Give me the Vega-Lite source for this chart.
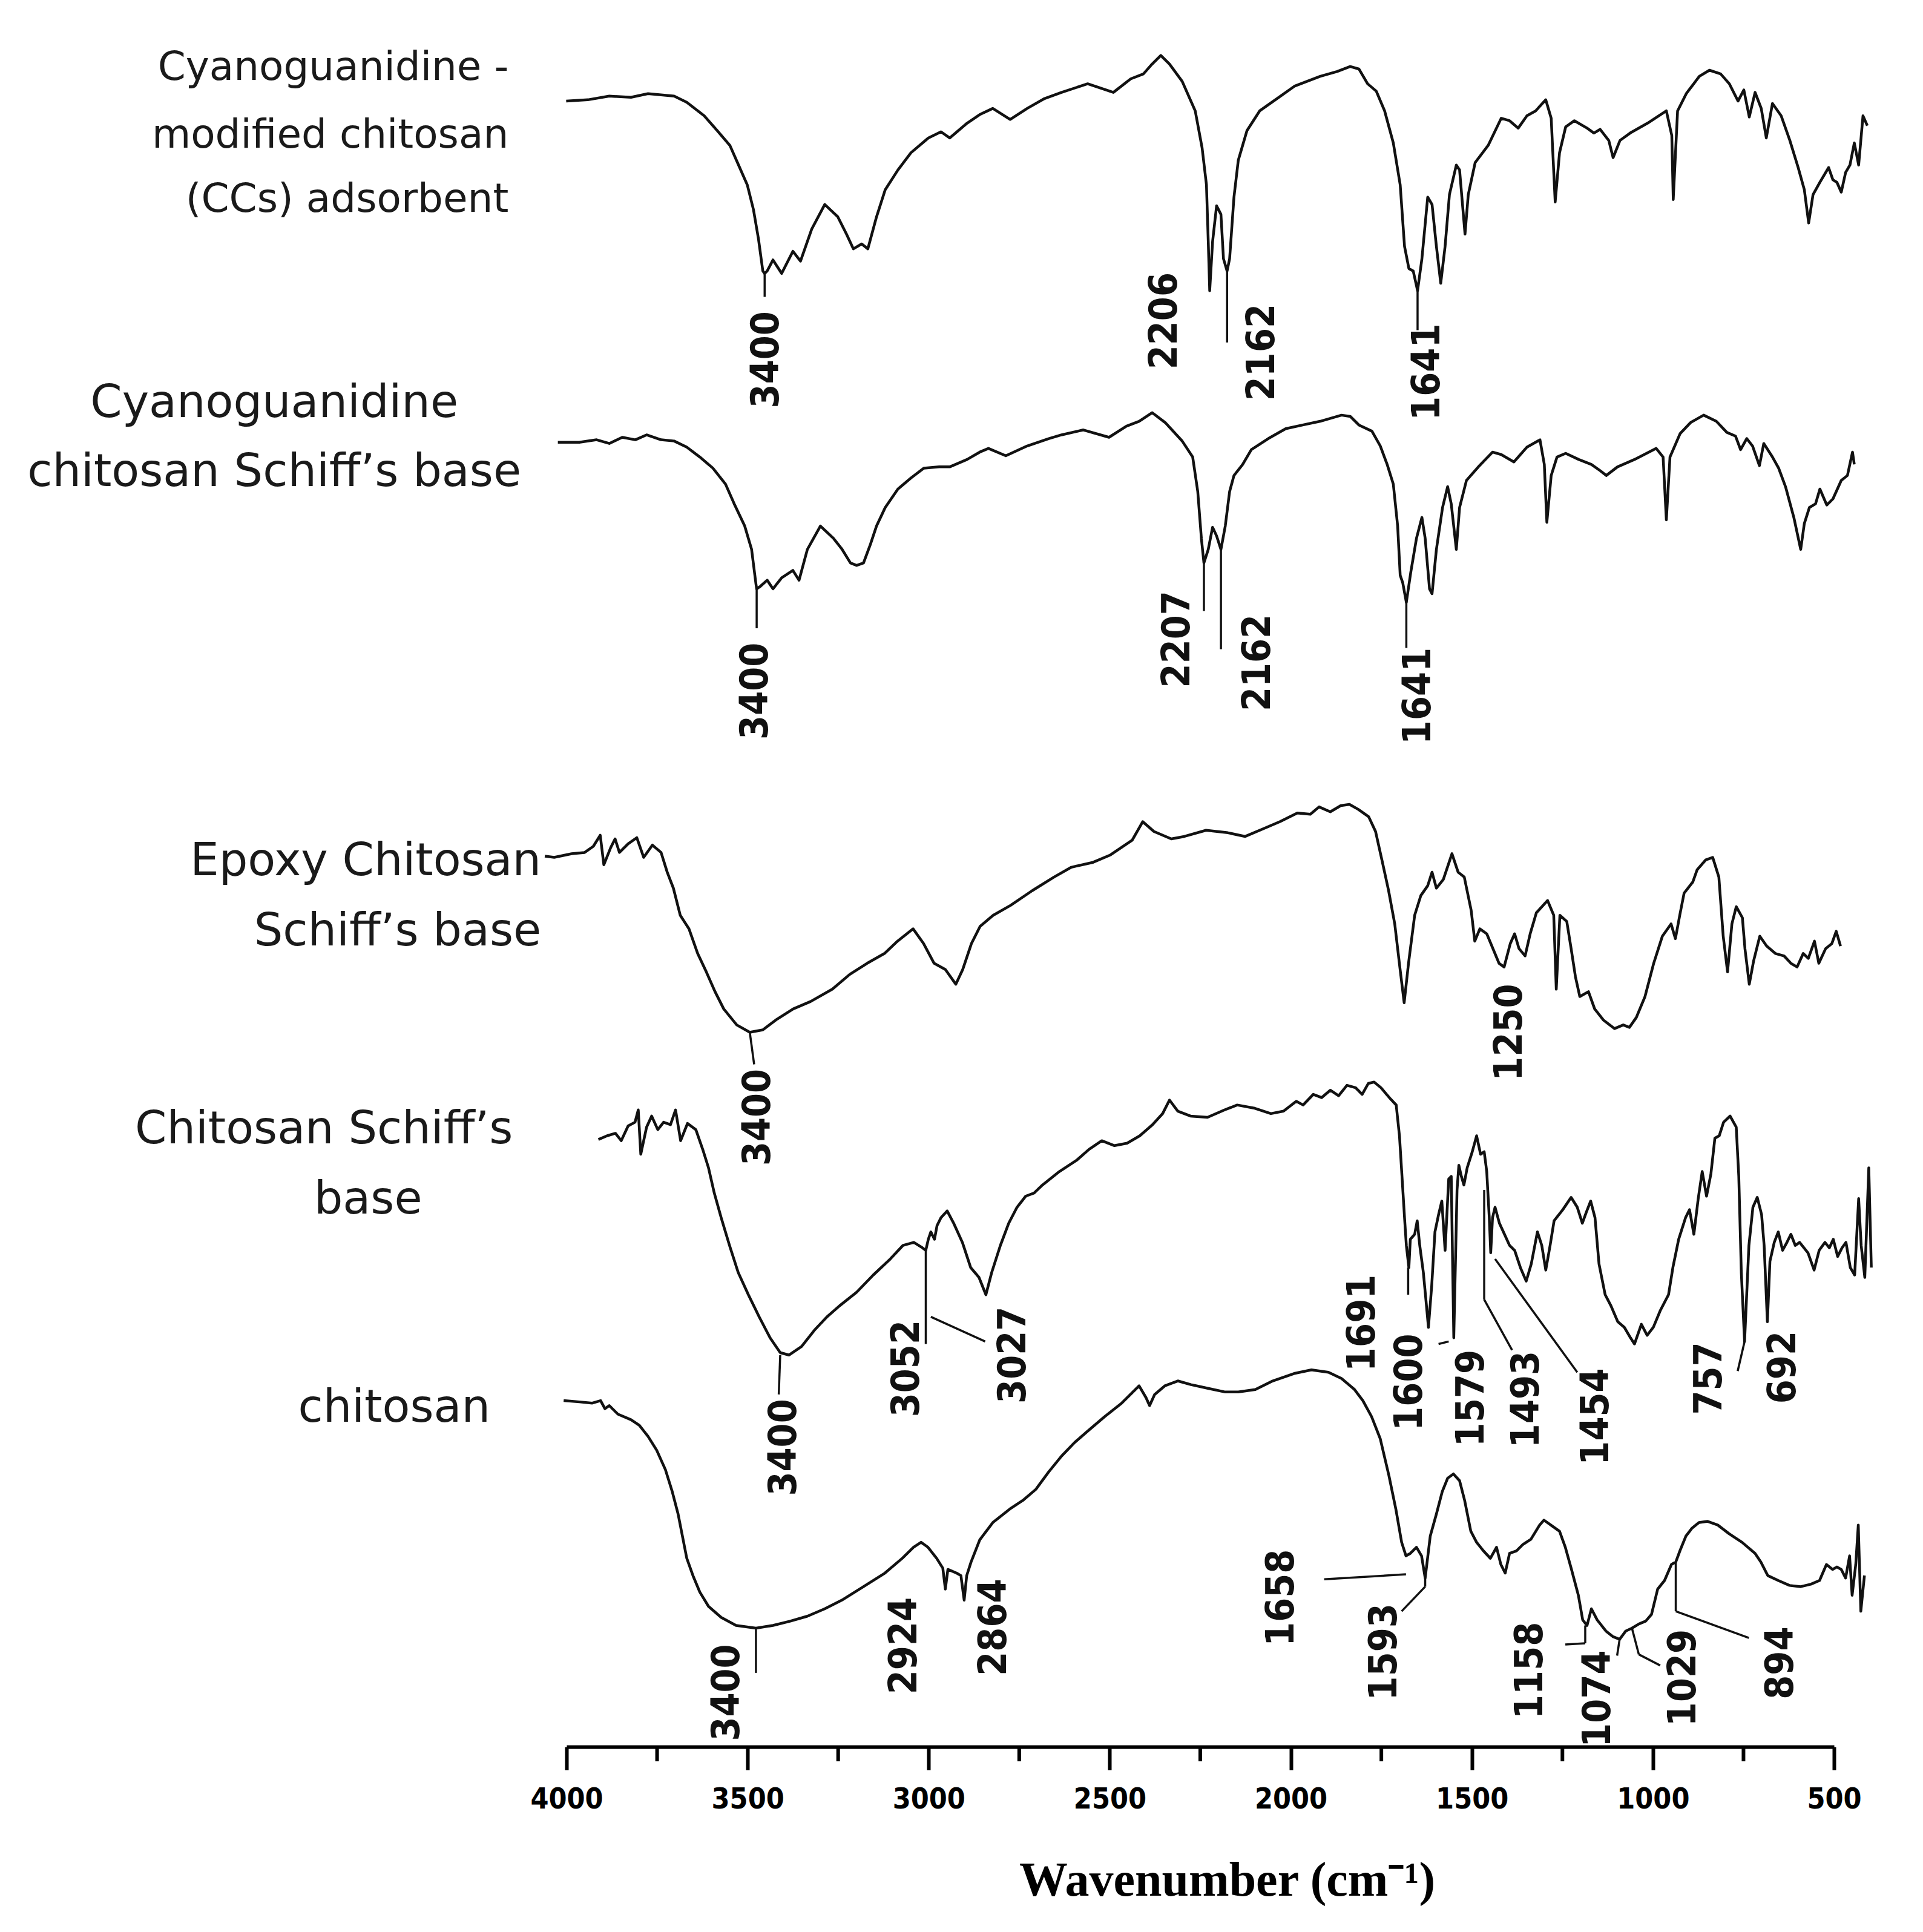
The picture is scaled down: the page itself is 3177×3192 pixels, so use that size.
{
"$schema": "https://vega.github.io/schema/vega-lite/v6.json",
"autosize": {"type": "none"},
"padding": {"left": 936, "top": 0, "right": 147, "bottom": 306},
"width": 2094,
"height": 2886,
"background": "white",
"config": {"view": {"stroke": null}},
"datasets": {
"spectra": [
{"s":"CCs","wn":4001,"T":133.6},{"s":"CCs","wn":3941,"T":133.7},{"s":"CCs","wn":3882,"T":134.0},{"s":"CCs","wn":3822,"T":133.9},{"s":"CCs","wn":3775,"T":134.2},{"s":"CCs","wn":3703,"T":134.0},{"s":"CCs","wn":3668,"T":133.5},{"s":"CCs","wn":3620,"T":132.4},{"s":"CCs","wn":3584,"T":131.2},{"s":"CCs","wn":3549,"T":130.0},{"s":"CCs","wn":3525,"T":128.4},{"s":"CCs","wn":3501,"T":126.8},{"s":"CCs","wn":3484,"T":124.8},{"s":"CCs","wn":3470,"T":122.4},{"s":"CCs","wn":3458,"T":119.8},{"s":"CCs","wn":3453,"T":119.6},{"s":"CCs","wn":3446,"T":119.8},{"s":"CCs","wn":3430,"T":120.7},{"s":"CCs","wn":3406,"T":119.6},{"s":"CCs","wn":3375,"T":121.4},{"s":"CCs","wn":3354,"T":120.6},{"s":"CCs","wn":3323,"T":123.2},{"s":"CCs","wn":3287,"T":125.2},{"s":"CCs","wn":3251,"T":124.2},{"s":"CCs","wn":3227,"T":122.8},{"s":"CCs","wn":3208,"T":121.6},{"s":"CCs","wn":3185,"T":122.0},{"s":"CCs","wn":3168,"T":121.6},{"s":"CCs","wn":3144,"T":124.2},{"s":"CCs","wn":3120,"T":126.4},{"s":"CCs","wn":3085,"T":128.0},{"s":"CCs","wn":3049,"T":129.4},{"s":"CCs","wn":3001,"T":130.6},{"s":"CCs","wn":2966,"T":131.1},{"s":"CCs","wn":2942,"T":130.6},{"s":"CCs","wn":2894,"T":131.8},{"s":"CCs","wn":2859,"T":132.5},{"s":"CCs","wn":2823,"T":133.0},{"s":"CCs","wn":2775,"T":132.1},{"s":"CCs","wn":2728,"T":133.0},{"s":"CCs","wn":2680,"T":133.8},{"s":"CCs","wn":2633,"T":134.3},{"s":"CCs","wn":2561,"T":135.0},{"s":"CCs","wn":2490,"T":134.3},{"s":"CCs","wn":2442,"T":135.4},{"s":"CCs","wn":2407,"T":135.8},{"s":"CCs","wn":2383,"T":136.6},{"s":"CCs","wn":2359,"T":137.3},{"s":"CCs","wn":2335,"T":136.6},{"s":"CCs","wn":2300,"T":135.2},{"s":"CCs","wn":2264,"T":132.8},{"s":"CCs","wn":2245,"T":129.8},{"s":"CCs","wn":2233,"T":126.8},{"s":"CCs","wn":2228,"T":122.2},{"s":"CCs","wn":2224,"T":118.2},{"s":"CCs","wn":2216,"T":122.2},{"s":"CCs","wn":2205,"T":125.1},{"s":"CCs","wn":2193,"T":124.4},{"s":"CCs","wn":2186,"T":120.8},{"s":"CCs","wn":2176,"T":119.8},{"s":"CCs","wn":2169,"T":120.8},{"s":"CCs","wn":2157,"T":125.8},{"s":"CCs","wn":2145,"T":128.8},{"s":"CCs","wn":2121,"T":131.2},{"s":"CCs","wn":2086,"T":132.8},{"s":"CCs","wn":2038,"T":133.8},{"s":"CCs","wn":1990,"T":134.8},{"s":"CCs","wn":1919,"T":135.6},{"s":"CCs","wn":1872,"T":136.0},{"s":"CCs","wn":1836,"T":136.4},{"s":"CCs","wn":1812,"T":136.2},{"s":"CCs","wn":1788,"T":135.0},{"s":"CCs","wn":1764,"T":134.4},{"s":"CCs","wn":1741,"T":132.8},{"s":"CCs","wn":1717,"T":130.2},{"s":"CCs","wn":1698,"T":126.8},{"s":"CCs","wn":1686,"T":121.8},{"s":"CCs","wn":1674,"T":120.0},{"s":"CCs","wn":1662,"T":119.8},{"s":"CCs","wn":1650,"T":118.2},{"s":"CCs","wn":1638,"T":120.8},{"s":"CCs","wn":1622,"T":125.8},{"s":"CCs","wn":1610,"T":125.2},{"s":"CCs","wn":1598,"T":121.8},{"s":"CCs","wn":1586,"T":118.8},{"s":"CCs","wn":1574,"T":121.8},{"s":"CCs","wn":1562,"T":126.0},{"s":"CCs","wn":1543,"T":128.4},{"s":"CCs","wn":1534,"T":128.0},{"s":"CCs","wn":1519,"T":122.8},{"s":"CCs","wn":1510,"T":126.0},{"s":"CCs","wn":1491,"T":128.6},{"s":"CCs","wn":1455,"T":130.0},{"s":"CCs","wn":1419,"T":132.2},{"s":"CCs","wn":1396,"T":132.0},{"s":"CCs","wn":1372,"T":131.4},{"s":"CCs","wn":1348,"T":132.4},{"s":"CCs","wn":1324,"T":132.8},{"s":"CCs","wn":1296,"T":133.7},{"s":"CCs","wn":1281,"T":132.2},{"s":"CCs","wn":1270,"T":125.4},{"s":"CCs","wn":1258,"T":129.4},{"s":"CCs","wn":1241,"T":131.5},{"s":"CCs","wn":1217,"T":132.0},{"s":"CCs","wn":1182,"T":131.4},{"s":"CCs","wn":1163,"T":131.0},{"s":"CCs","wn":1146,"T":131.3},{"s":"CCs","wn":1122,"T":130.4},{"s":"CCs","wn":1110,"T":129.0},{"s":"CCs","wn":1091,"T":130.4},{"s":"CCs","wn":1063,"T":131.0},{"s":"CCs","wn":1015,"T":131.8},{"s":"CCs","wn":963,"T":132.8},{"s":"CCs","wn":948,"T":130.8},{"s":"CCs","wn":944,"T":125.6},{"s":"CCs","wn":932,"T":132.8},{"s":"CCs","wn":908,"T":134.2},{"s":"CCs","wn":872,"T":135.6},{"s":"CCs","wn":844,"T":136.1},{"s":"CCs","wn":813,"T":135.8},{"s":"CCs","wn":789,"T":135.0},{"s":"CCs","wn":765,"T":133.6},{"s":"CCs","wn":749,"T":134.5},{"s":"CCs","wn":734,"T":132.3},{"s":"CCs","wn":718,"T":134.3},{"s":"CCs","wn":701,"T":133.0},{"s":"CCs","wn":687,"T":130.6},{"s":"CCs","wn":670,"T":133.4},{"s":"CCs","wn":646,"T":132.4},{"s":"CCs","wn":622,"T":130.4},{"s":"CCs","wn":599,"T":128.2},{"s":"CCs","wn":582,"T":126.4},{"s":"CCs","wn":570,"T":123.7},{"s":"CCs","wn":558,"T":126.0},{"s":"CCs","wn":539,"T":127.0},{"s":"CCs","wn":515,"T":128.2},{"s":"CCs","wn":503,"T":127.2},{"s":"CCs","wn":492,"T":127.0},{"s":"CCs","wn":480,"T":126.2},{"s":"CCs","wn":468,"T":127.8},{"s":"CCs","wn":456,"T":128.4},{"s":"CCs","wn":444,"T":130.2},{"s":"CCs","wn":432,"T":128.4},{"s":"CCs","wn":420,"T":132.4},{"s":"CCs","wn":408,"T":131.6},
{"s":"CGCSB","wn":4024,"T":105.9},{"s":"CGCSB","wn":3965,"T":105.9},{"s":"CGCSB","wn":3917,"T":106.1},{"s":"CGCSB","wn":3882,"T":105.8},{"s":"CGCSB","wn":3846,"T":106.3},{"s":"CGCSB","wn":3810,"T":106.1},{"s":"CGCSB","wn":3779,"T":106.5},{"s":"CGCSB","wn":3739,"T":106.1},{"s":"CGCSB","wn":3703,"T":106.0},{"s":"CGCSB","wn":3668,"T":105.5},{"s":"CGCSB","wn":3632,"T":104.7},{"s":"CGCSB","wn":3596,"T":103.8},{"s":"CGCSB","wn":3561,"T":102.5},{"s":"CGCSB","wn":3537,"T":100.9},{"s":"CGCSB","wn":3508,"T":99.1},{"s":"CGCSB","wn":3489,"T":97.2},{"s":"CGCSB","wn":3477,"T":94.4},{"s":"CGCSB","wn":3475,"T":94.0},{"s":"CGCSB","wn":3465,"T":94.2},{"s":"CGCSB","wn":3446,"T":94.7},{"s":"CGCSB","wn":3430,"T":94.0},{"s":"CGCSB","wn":3406,"T":94.9},{"s":"CGCSB","wn":3375,"T":95.5},{"s":"CGCSB","wn":3358,"T":94.7},{"s":"CGCSB","wn":3335,"T":97.2},{"s":"CGCSB","wn":3299,"T":99.1},{"s":"CGCSB","wn":3263,"T":98.1},{"s":"CGCSB","wn":3239,"T":97.2},{"s":"CGCSB","wn":3216,"T":96.1},{"s":"CGCSB","wn":3199,"T":95.9},{"s":"CGCSB","wn":3180,"T":96.1},{"s":"CGCSB","wn":3161,"T":97.6},{"s":"CGCSB","wn":3144,"T":99.1},{"s":"CGCSB","wn":3120,"T":100.6},{"s":"CGCSB","wn":3085,"T":102.1},{"s":"CGCSB","wn":3049,"T":103.0},{"s":"CGCSB","wn":3013,"T":103.8},{"s":"CGCSB","wn":2971,"T":103.9},{"s":"CGCSB","wn":2942,"T":103.9},{"s":"CGCSB","wn":2894,"T":104.5},{"s":"CGCSB","wn":2859,"T":105.1},{"s":"CGCSB","wn":2835,"T":105.4},{"s":"CGCSB","wn":2787,"T":104.8},{"s":"CGCSB","wn":2728,"T":105.6},{"s":"CGCSB","wn":2668,"T":106.2},{"s":"CGCSB","wn":2633,"T":106.5},{"s":"CGCSB","wn":2573,"T":106.9},{"s":"CGCSB","wn":2502,"T":106.3},{"s":"CGCSB","wn":2454,"T":107.2},{"s":"CGCSB","wn":2419,"T":107.6},{"s":"CGCSB","wn":2383,"T":108.3},{"s":"CGCSB","wn":2347,"T":107.5},{"s":"CGCSB","wn":2300,"T":106.0},{"s":"CGCSB","wn":2271,"T":104.7},{"s":"CGCSB","wn":2257,"T":101.9},{"s":"CGCSB","wn":2247,"T":98.1},{"s":"CGCSB","wn":2240,"T":96.1},{"s":"CGCSB","wn":2228,"T":97.2},{"s":"CGCSB","wn":2216,"T":99.0},{"s":"CGCSB","wn":2205,"T":98.3},{"s":"CGCSB","wn":2193,"T":97.2},{"s":"CGCSB","wn":2181,"T":99.1},{"s":"CGCSB","wn":2169,"T":101.9},{"s":"CGCSB","wn":2157,"T":103.2},{"s":"CGCSB","wn":2133,"T":104.1},{"s":"CGCSB","wn":2109,"T":105.3},{"s":"CGCSB","wn":2062,"T":106.2},{"s":"CGCSB","wn":2014,"T":107.0},{"s":"CGCSB","wn":1967,"T":107.3},{"s":"CGCSB","wn":1919,"T":107.6},{"s":"CGCSB","wn":1860,"T":108.1},{"s":"CGCSB","wn":1836,"T":108.0},{"s":"CGCSB","wn":1812,"T":107.3},{"s":"CGCSB","wn":1776,"T":106.8},{"s":"CGCSB","wn":1753,"T":105.6},{"s":"CGCSB","wn":1734,"T":104.1},{"s":"CGCSB","wn":1717,"T":102.5},{"s":"CGCSB","wn":1705,"T":99.1},{"s":"CGCSB","wn":1698,"T":95.1},{"s":"CGCSB","wn":1691,"T":94.5},{"s":"CGCSB","wn":1681,"T":92.9},{"s":"CGCSB","wn":1669,"T":95.3},{"s":"CGCSB","wn":1653,"T":98.1},{"s":"CGCSB","wn":1638,"T":99.8},{"s":"CGCSB","wn":1629,"T":98.1},{"s":"CGCSB","wn":1617,"T":94.0},{"s":"CGCSB","wn":1610,"T":93.6},{"s":"CGCSB","wn":1598,"T":97.2},{"s":"CGCSB","wn":1581,"T":100.6},{"s":"CGCSB","wn":1567,"T":102.3},{"s":"CGCSB","wn":1557,"T":100.9},{"s":"CGCSB","wn":1543,"T":97.2},{"s":"CGCSB","wn":1534,"T":100.6},{"s":"CGCSB","wn":1515,"T":102.8},{"s":"CGCSB","wn":1479,"T":104.0},{"s":"CGCSB","wn":1443,"T":105.1},{"s":"CGCSB","wn":1419,"T":104.9},{"s":"CGCSB","wn":1384,"T":104.3},{"s":"CGCSB","wn":1348,"T":105.5},{"s":"CGCSB","wn":1312,"T":106.1},{"s":"CGCSB","wn":1300,"T":104.1},{"s":"CGCSB","wn":1293,"T":99.4},{"s":"CGCSB","wn":1281,"T":103.2},{"s":"CGCSB","wn":1265,"T":104.7},{"s":"CGCSB","wn":1241,"T":105.0},{"s":"CGCSB","wn":1205,"T":104.5},{"s":"CGCSB","wn":1170,"T":104.1},{"s":"CGCSB","wn":1146,"T":103.6},{"s":"CGCSB","wn":1129,"T":103.2},{"s":"CGCSB","wn":1098,"T":103.9},{"s":"CGCSB","wn":1051,"T":104.5},{"s":"CGCSB","wn":991,"T":105.4},{"s":"CGCSB","wn":972,"T":104.7},{"s":"CGCSB","wn":963,"T":99.6},{"s":"CGCSB","wn":953,"T":104.7},{"s":"CGCSB","wn":925,"T":106.6},{"s":"CGCSB","wn":896,"T":107.5},{"s":"CGCSB","wn":860,"T":108.1},{"s":"CGCSB","wn":825,"T":107.6},{"s":"CGCSB","wn":796,"T":106.7},{"s":"CGCSB","wn":772,"T":106.4},{"s":"CGCSB","wn":758,"T":105.3},{"s":"CGCSB","wn":741,"T":106.2},{"s":"CGCSB","wn":725,"T":105.6},{"s":"CGCSB","wn":706,"T":104.0},{"s":"CGCSB","wn":694,"T":105.8},{"s":"CGCSB","wn":670,"T":104.7},{"s":"CGCSB","wn":653,"T":103.8},{"s":"CGCSB","wn":634,"T":102.3},{"s":"CGCSB","wn":611,"T":99.8},{"s":"CGCSB","wn":592,"T":97.2},{"s":"CGCSB","wn":582,"T":99.3},{"s":"CGCSB","wn":568,"T":100.6},{"s":"CGCSB","wn":551,"T":100.9},{"s":"CGCSB","wn":539,"T":102.1},{"s":"CGCSB","wn":520,"T":100.8},{"s":"CGCSB","wn":503,"T":101.3},{"s":"CGCSB","wn":480,"T":102.8},{"s":"CGCSB","wn":463,"T":103.2},{"s":"CGCSB","wn":449,"T":105.1},{"s":"CGCSB","wn":444,"T":104.1},
{"s":"ECSB","wn":4060,"T":72.3},{"s":"ECSB","wn":4034,"T":72.2},{"s":"ECSB","wn":3986,"T":72.5},{"s":"ECSB","wn":3950,"T":72.6},{"s":"ECSB","wn":3926,"T":73.1},{"s":"ECSB","wn":3907,"T":74.0},{"s":"ECSB","wn":3897,"T":71.6},{"s":"ECSB","wn":3878,"T":73.0},{"s":"ECSB","wn":3866,"T":73.7},{"s":"ECSB","wn":3854,"T":72.6},{"s":"ECSB","wn":3830,"T":73.3},{"s":"ECSB","wn":3806,"T":73.8},{"s":"ECSB","wn":3787,"T":72.2},{"s":"ECSB","wn":3763,"T":73.2},{"s":"ECSB","wn":3739,"T":72.6},{"s":"ECSB","wn":3722,"T":71.0},{"s":"ECSB","wn":3705,"T":69.7},{"s":"ECSB","wn":3686,"T":67.5},{"s":"ECSB","wn":3662,"T":66.4},{"s":"ECSB","wn":3638,"T":64.4},{"s":"ECSB","wn":3614,"T":62.9},{"s":"ECSB","wn":3590,"T":61.3},{"s":"ECSB","wn":3566,"T":59.9},{"s":"ECSB","wn":3530,"T":58.6},{"s":"ECSB","wn":3494,"T":58.0},{"s":"ECSB","wn":3458,"T":58.2},{"s":"ECSB","wn":3422,"T":59.0},{"s":"ECSB","wn":3374,"T":59.9},{"s":"ECSB","wn":3326,"T":60.5},{"s":"ECSB","wn":3266,"T":61.5},{"s":"ECSB","wn":3218,"T":62.7},{"s":"ECSB","wn":3170,"T":63.6},{"s":"ECSB","wn":3122,"T":64.4},{"s":"ECSB","wn":3086,"T":65.4},{"s":"ECSB","wn":3043,"T":66.4},{"s":"ECSB","wn":3014,"T":65.2},{"s":"ECSB","wn":2985,"T":63.6},{"s":"ECSB","wn":2954,"T":63.1},{"s":"ECSB","wn":2925,"T":61.9},{"s":"ECSB","wn":2906,"T":63.1},{"s":"ECSB","wn":2882,"T":65.2},{"s":"ECSB","wn":2858,"T":66.6},{"s":"ECSB","wn":2822,"T":67.5},{"s":"ECSB","wn":2774,"T":68.3},{"s":"ECSB","wn":2714,"T":69.5},{"s":"ECSB","wn":2654,"T":70.6},{"s":"ECSB","wn":2606,"T":71.4},{"s":"ECSB","wn":2546,"T":71.8},{"s":"ECSB","wn":2498,"T":72.4},{"s":"ECSB","wn":2438,"T":73.6},{"s":"ECSB","wn":2409,"T":75.1},{"s":"ECSB","wn":2378,"T":74.3},{"s":"ECSB","wn":2330,"T":73.7},{"s":"ECSB","wn":2294,"T":73.9},{"s":"ECSB","wn":2234,"T":74.4},{"s":"ECSB","wn":2174,"T":74.2},{"s":"ECSB","wn":2126,"T":73.9},{"s":"ECSB","wn":2078,"T":74.5},{"s":"ECSB","wn":2030,"T":75.1},{"s":"ECSB","wn":1982,"T":75.8},{"s":"ECSB","wn":1946,"T":75.7},{"s":"ECSB","wn":1922,"T":76.3},{"s":"ECSB","wn":1891,"T":75.9},{"s":"ECSB","wn":1862,"T":76.4},{"s":"ECSB","wn":1838,"T":76.5},{"s":"ECSB","wn":1814,"T":76.1},{"s":"ECSB","wn":1785,"T":75.5},{"s":"ECSB","wn":1766,"T":74.3},{"s":"ECSB","wn":1747,"T":71.8},{"s":"ECSB","wn":1730,"T":69.5},{"s":"ECSB","wn":1713,"T":66.8},{"s":"ECSB","wn":1699,"T":63.3},{"s":"ECSB","wn":1687,"T":60.4},{"s":"ECSB","wn":1675,"T":63.6},{"s":"ECSB","wn":1658,"T":67.5},{"s":"ECSB","wn":1641,"T":69.1},{"s":"ECSB","wn":1622,"T":69.9},{"s":"ECSB","wn":1610,"T":71.0},{"s":"ECSB","wn":1598,"T":69.7},{"s":"ECSB","wn":1579,"T":70.4},{"s":"ECSB","wn":1555,"T":72.5},{"s":"ECSB","wn":1538,"T":71.0},{"s":"ECSB","wn":1521,"T":70.6},{"s":"ECSB","wn":1502,"T":67.9},{"s":"ECSB","wn":1492,"T":65.4},{"s":"ECSB","wn":1478,"T":66.4},{"s":"ECSB","wn":1459,"T":66.0},{"s":"ECSB","wn":1442,"T":64.8},{"s":"ECSB","wn":1425,"T":63.6},{"s":"ECSB","wn":1411,"T":63.3},{"s":"ECSB","wn":1394,"T":65.2},{"s":"ECSB","wn":1382,"T":66.0},{"s":"ECSB","wn":1370,"T":64.8},{"s":"ECSB","wn":1353,"T":64.2},{"s":"ECSB","wn":1339,"T":66.0},{"s":"ECSB","wn":1322,"T":67.7},{"s":"ECSB","wn":1291,"T":68.7},{"s":"ECSB","wn":1274,"T":67.5},{"s":"ECSB","wn":1267,"T":61.5},{"s":"ECSB","wn":1257,"T":67.5},{"s":"ECSB","wn":1238,"T":67.0},{"s":"ECSB","wn":1226,"T":64.8},{"s":"ECSB","wn":1214,"T":62.5},{"s":"ECSB","wn":1202,"T":60.9},{"s":"ECSB","wn":1178,"T":61.3},{"s":"ECSB","wn":1161,"T":59.9},{"s":"ECSB","wn":1137,"T":59.0},{"s":"ECSB","wn":1106,"T":58.3},{"s":"ECSB","wn":1082,"T":58.6},{"s":"ECSB","wn":1065,"T":58.4},{"s":"ECSB","wn":1046,"T":59.2},{"s":"ECSB","wn":1022,"T":60.9},{"s":"ECSB","wn":998,"T":63.6},{"s":"ECSB","wn":974,"T":65.8},{"s":"ECSB","wn":950,"T":66.8},{"s":"ECSB","wn":938,"T":65.6},{"s":"ECSB","wn":926,"T":67.5},{"s":"ECSB","wn":914,"T":69.3},{"s":"ECSB","wn":890,"T":70.2},{"s":"ECSB","wn":878,"T":71.2},{"s":"ECSB","wn":854,"T":72.0},{"s":"ECSB","wn":835,"T":72.2},{"s":"ECSB","wn":818,"T":70.6},{"s":"ECSB","wn":806,"T":65.8},{"s":"ECSB","wn":794,"T":62.9},{"s":"ECSB","wn":782,"T":66.8},{"s":"ECSB","wn":770,"T":68.2},{"s":"ECSB","wn":753,"T":67.3},{"s":"ECSB","wn":746,"T":64.8},{"s":"ECSB","wn":734,"T":61.9},{"s":"ECSB","wn":722,"T":63.8},{"s":"ECSB","wn":705,"T":65.8},{"s":"ECSB","wn":686,"T":65.0},{"s":"ECSB","wn":662,"T":64.4},{"s":"ECSB","wn":638,"T":64.2},{"s":"ECSB","wn":619,"T":63.6},{"s":"ECSB","wn":602,"T":63.3},{"s":"ECSB","wn":585,"T":64.4},{"s":"ECSB","wn":571,"T":64.0},{"s":"ECSB","wn":554,"T":65.4},{"s":"ECSB","wn":542,"T":63.6},{"s":"ECSB","wn":523,"T":64.8},{"s":"ECSB","wn":506,"T":65.2},{"s":"ECSB","wn":494,"T":66.2},{"s":"ECSB","wn":482,"T":65.0},
{"s":"CSB","wn":3912,"T":49.3},{"s":"CSB","wn":3888,"T":49.6},{"s":"CSB","wn":3865,"T":49.8},{"s":"CSB","wn":3849,"T":49.2},{"s":"CSB","wn":3830,"T":50.4},{"s":"CSB","wn":3811,"T":50.7},{"s":"CSB","wn":3802,"T":51.7},{"s":"CSB","wn":3795,"T":48.1},{"s":"CSB","wn":3779,"T":50.3},{"s":"CSB","wn":3765,"T":51.2},{"s":"CSB","wn":3748,"T":50.1},{"s":"CSB","wn":3732,"T":50.7},{"s":"CSB","wn":3713,"T":50.5},{"s":"CSB","wn":3699,"T":51.7},{"s":"CSB","wn":3685,"T":49.2},{"s":"CSB","wn":3666,"T":50.6},{"s":"CSB","wn":3643,"T":50.1},{"s":"CSB","wn":3624,"T":48.5},{"s":"CSB","wn":3608,"T":47.0},{"s":"CSB","wn":3592,"T":44.95},{"s":"CSB","wn":3573,"T":42.95},{"s":"CSB","wn":3550,"T":40.7},{"s":"CSB","wn":3526,"T":38.5},{"s":"CSB","wn":3498,"T":36.7},{"s":"CSB","wn":3468,"T":34.9},{"s":"CSB","wn":3438,"T":33.2},{"s":"CSB","wn":3410,"T":32.0},{"s":"CSB","wn":3386,"T":31.8},{"s":"CSB","wn":3351,"T":32.5},{"s":"CSB","wn":3316,"T":33.8},{"s":"CSB","wn":3281,"T":34.9},{"s":"CSB","wn":3246,"T":35.8},{"s":"CSB","wn":3199,"T":36.9},{"s":"CSB","wn":3153,"T":38.3},{"s":"CSB","wn":3106,"T":39.6},{"s":"CSB","wn":3071,"T":40.7},{"s":"CSB","wn":3041,"T":40.95},{"s":"CSB","wn":3017,"T":40.5},{"s":"CSB","wn":3008,"T":40.3},{"s":"CSB","wn":3001,"T":41.2},{"s":"CSB","wn":2994,"T":41.8},{"s":"CSB","wn":2984,"T":41.2},{"s":"CSB","wn":2977,"T":42.3},{"s":"CSB","wn":2966,"T":42.95},{"s":"CSB","wn":2949,"T":43.5},{"s":"CSB","wn":2931,"T":42.5},{"s":"CSB","wn":2907,"T":40.95},{"s":"CSB","wn":2884,"T":38.9},{"s":"CSB","wn":2861,"T":38.1},{"s":"CSB","wn":2842,"T":36.7},{"s":"CSB","wn":2826,"T":38.5},{"s":"CSB","wn":2802,"T":40.7},{"s":"CSB","wn":2779,"T":42.5},{"s":"CSB","wn":2756,"T":43.8},{"s":"CSB","wn":2732,"T":44.7},{"s":"CSB","wn":2709,"T":44.95},{"s":"CSB","wn":2686,"T":45.6},{"s":"CSB","wn":2639,"T":46.7},{"s":"CSB","wn":2592,"T":47.6},{"s":"CSB","wn":2557,"T":48.5},{"s":"CSB","wn":2522,"T":49.2},{"s":"CSB","wn":2487,"T":48.8},{"s":"CSB","wn":2452,"T":49.0},{"s":"CSB","wn":2417,"T":49.6},{"s":"CSB","wn":2382,"T":50.5},{"s":"CSB","wn":2354,"T":51.4},{"s":"CSB","wn":2335,"T":52.5},{"s":"CSB","wn":2312,"T":51.6},{"s":"CSB","wn":2277,"T":51.2},{"s":"CSB","wn":2230,"T":51.1},{"s":"CSB","wn":2183,"T":51.7},{"s":"CSB","wn":2148,"T":52.1},{"s":"CSB","wn":2102,"T":51.85},{"s":"CSB","wn":2055,"T":51.4},{"s":"CSB","wn":2020,"T":51.6},{"s":"CSB","wn":1985,"T":52.4},{"s":"CSB","wn":1966,"T":52.1},{"s":"CSB","wn":1938,"T":52.96},{"s":"CSB","wn":1915,"T":52.7},{"s":"CSB","wn":1891,"T":53.3},{"s":"CSB","wn":1868,"T":52.85},{"s":"CSB","wn":1845,"T":53.7},{"s":"CSB","wn":1821,"T":53.5},{"s":"CSB","wn":1803,"T":52.96},{"s":"CSB","wn":1786,"T":53.85},{"s":"CSB","wn":1770,"T":53.96},{"s":"CSB","wn":1751,"T":53.5},{"s":"CSB","wn":1728,"T":52.7},{"s":"CSB","wn":1709,"T":52.1},{"s":"CSB","wn":1700,"T":49.6},{"s":"CSB","wn":1693,"T":46.3},{"s":"CSB","wn":1686,"T":42.95},{"s":"CSB","wn":1681,"T":40.7},{"s":"CSB","wn":1674,"T":38.9},{"s":"CSB","wn":1670,"T":41.2},{"s":"CSB","wn":1658,"T":41.6},{"s":"CSB","wn":1651,"T":42.7},{"s":"CSB","wn":1644,"T":40.7},{"s":"CSB","wn":1634,"T":38.5},{"s":"CSB","wn":1627,"T":36.3},{"s":"CSB","wn":1620,"T":34.05},{"s":"CSB","wn":1611,"T":37.4},{"s":"CSB","wn":1602,"T":41.8},{"s":"CSB","wn":1592,"T":43.2},{"s":"CSB","wn":1583,"T":44.3},{"s":"CSB","wn":1574,"T":40.3},{"s":"CSB","wn":1564,"T":46.1},{"s":"CSB","wn":1557,"T":46.3},{"s":"CSB","wn":1550,"T":33.2},{"s":"CSB","wn":1541,"T":45.2},{"s":"CSB","wn":1536,"T":47.2},{"s":"CSB","wn":1529,"T":46.3},{"s":"CSB","wn":1522,"T":45.6},{"s":"CSB","wn":1513,"T":47.0},{"s":"CSB","wn":1499,"T":48.3},{"s":"CSB","wn":1487,"T":49.6},{"s":"CSB","wn":1476,"T":48.1},{"s":"CSB","wn":1466,"T":48.3},{"s":"CSB","wn":1459,"T":46.7},{"s":"CSB","wn":1452,"T":42.95},{"s":"CSB","wn":1448,"T":40.1},{"s":"CSB","wn":1443,"T":42.95},{"s":"CSB","wn":1436,"T":43.8},{"s":"CSB","wn":1424,"T":42.5},{"s":"CSB","wn":1413,"T":41.8},{"s":"CSB","wn":1396,"T":40.7},{"s":"CSB","wn":1382,"T":40.3},{"s":"CSB","wn":1366,"T":38.9},{"s":"CSB","wn":1350,"T":37.8},{"s":"CSB","wn":1336,"T":39.2},{"s":"CSB","wn":1319,"T":41.8},{"s":"CSB","wn":1307,"T":40.7},{"s":"CSB","wn":1296,"T":38.7},{"s":"CSB","wn":1284,"T":40.7},{"s":"CSB","wn":1273,"T":42.7},{"s":"CSB","wn":1249,"T":43.6},{"s":"CSB","wn":1226,"T":44.6},{"s":"CSB","wn":1209,"T":43.8},{"s":"CSB","wn":1195,"T":42.5},{"s":"CSB","wn":1184,"T":43.4},{"s":"CSB","wn":1172,"T":44.3},{"s":"CSB","wn":1160,"T":42.95},{"s":"CSB","wn":1149,"T":39.2},{"s":"CSB","wn":1132,"T":36.7},{"s":"CSB","wn":1116,"T":35.8},{"s":"CSB","wn":1097,"T":34.5},{"s":"CSB","wn":1079,"T":34.05},{"s":"CSB","wn":1062,"T":33.2},{"s":"CSB","wn":1051,"T":32.7},{"s":"CSB","wn":1032,"T":34.3},{"s":"CSB","wn":1016,"T":33.4},{"s":"CSB","wn":999,"T":34.05},{"s":"CSB","wn":980,"T":35.4},{"s":"CSB","wn":957,"T":36.7},{"s":"CSB","wn":945,"T":38.9},{"s":"CSB","wn":929,"T":41.2},{"s":"CSB","wn":910,"T":42.95},{"s":"CSB","wn":899,"T":43.6},{"s":"CSB","wn":887,"T":41.6},{"s":"CSB","wn":875,"T":44.5},{"s":"CSB","wn":864,"T":46.7},{"s":"CSB","wn":852,"T":44.7},{"s":"CSB","wn":840,"T":46.5},{"s":"CSB","wn":829,"T":49.4},{"s":"CSB","wn":817,"T":49.6},{"s":"CSB","wn":805,"T":50.7},{"s":"CSB","wn":787,"T":51.2},{"s":"CSB","wn":770,"T":50.3},{"s":"CSB","wn":763,"T":46.3},{"s":"CSB","wn":756,"T":38.5},{"s":"CSB","wn":747,"T":32.9},{"s":"CSB","wn":735,"T":40.7},{"s":"CSB","wn":724,"T":43.8},{"s":"CSB","wn":712,"T":44.6},{"s":"CSB","wn":700,"T":43.2},{"s":"CSB","wn":693,"T":40.7},{"s":"CSB","wn":684,"T":34.5},{"s":"CSB","wn":677,"T":39.4},{"s":"CSB","wn":665,"T":40.95},{"s":"CSB","wn":654,"T":41.8},{"s":"CSB","wn":642,"T":40.3},{"s":"CSB","wn":630,"T":40.95},{"s":"CSB","wn":619,"T":41.6},{"s":"CSB","wn":607,"T":40.7},{"s":"CSB","wn":595,"T":40.95},{"s":"CSB","wn":583,"T":40.5},{"s":"CSB","wn":572,"T":40.1},{"s":"CSB","wn":555,"T":38.7},{"s":"CSB","wn":541,"T":40.3},{"s":"CSB","wn":525,"T":40.95},{"s":"CSB","wn":513,"T":40.5},{"s":"CSB","wn":502,"T":41.2},{"s":"CSB","wn":490,"T":39.8},{"s":"CSB","wn":478,"T":40.5},{"s":"CSB","wn":467,"T":40.95},{"s":"CSB","wn":455,"T":38.9},{"s":"CSB","wn":443,"T":38.3},{"s":"CSB","wn":432,"T":44.5},{"s":"CSB","wn":425,"T":40.7},{"s":"CSB","wn":415,"T":38.1},{"s":"CSB","wn":404,"T":47.0},{"s":"CSB","wn":397,"T":38.9},
{"s":"CS","wn":4008,"T":28.1},{"s":"CS","wn":3965,"T":28.0},{"s":"CS","wn":3929,"T":27.9},{"s":"CS","wn":3906,"T":28.1},{"s":"CS","wn":3894,"T":27.45},{"s":"CS","wn":3882,"T":27.7},{"s":"CS","wn":3858,"T":27.0},{"s":"CS","wn":3822,"T":26.55},{"s":"CS","wn":3799,"T":26.1},{"s":"CS","wn":3775,"T":25.2},{"s":"CS","wn":3751,"T":24.07},{"s":"CS","wn":3727,"T":22.5},{"s":"CS","wn":3708,"T":20.7},{"s":"CS","wn":3692,"T":18.9},{"s":"CS","wn":3680,"T":17.1},{"s":"CS","wn":3668,"T":15.3},{"s":"CS","wn":3651,"T":13.9},{"s":"CS","wn":3632,"T":12.56},{"s":"CS","wn":3608,"T":11.4},{"s":"CS","wn":3573,"T":10.5},{"s":"CS","wn":3532,"T":9.85},{"s":"CS","wn":3477,"T":9.63},{"s":"CS","wn":3430,"T":9.85},{"s":"CS","wn":3382,"T":10.2},{"s":"CS","wn":3335,"T":10.6},{"s":"CS","wn":3287,"T":11.2},{"s":"CS","wn":3240,"T":11.9},{"s":"CS","wn":3180,"T":13.0},{"s":"CS","wn":3121,"T":14.1},{"s":"CS","wn":3073,"T":15.3},{"s":"CS","wn":3042,"T":16.2},{"s":"CS","wn":3021,"T":16.6},{"s":"CS","wn":3002,"T":16.2},{"s":"CS","wn":2978,"T":15.3},{"s":"CS","wn":2961,"T":14.5},{"s":"CS","wn":2954,"T":12.8},{"s":"CS","wn":2947,"T":14.4},{"s":"CS","wn":2923,"T":14.1},{"s":"CS","wn":2911,"T":13.9},{"s":"CS","wn":2902,"T":11.9},{"s":"CS","wn":2895,"T":13.9},{"s":"CS","wn":2883,"T":15.0},{"s":"CS","wn":2859,"T":16.8},{"s":"CS","wn":2823,"T":18.2},{"s":"CS","wn":2776,"T":19.3},{"s":"CS","wn":2740,"T":20.0},{"s":"CS","wn":2704,"T":20.9},{"s":"CS","wn":2669,"T":22.3},{"s":"CS","wn":2633,"T":23.6},{"s":"CS","wn":2597,"T":24.7},{"s":"CS","wn":2562,"T":25.6},{"s":"CS","wn":2514,"T":26.8},{"s":"CS","wn":2467,"T":27.9},{"s":"CS","wn":2419,"T":29.3},{"s":"CS","wn":2400,"T":28.35},{"s":"CS","wn":2390,"T":27.7},{"s":"CS","wn":2376,"T":28.6},{"s":"CS","wn":2348,"T":29.3},{"s":"CS","wn":2312,"T":29.7},{"s":"CS","wn":2276,"T":29.4},{"s":"CS","wn":2229,"T":29.1},{"s":"CS","wn":2181,"T":28.8},{"s":"CS","wn":2145,"T":28.8},{"s":"CS","wn":2098,"T":29.0},{"s":"CS","wn":2050,"T":29.7},{"s":"CS","wn":1991,"T":30.3},{"s":"CS","wn":1943,"T":30.6},{"s":"CS","wn":1896,"T":30.4},{"s":"CS","wn":1860,"T":29.9},{"s":"CS","wn":1824,"T":29.0},{"s":"CS","wn":1801,"T":28.1},{"s":"CS","wn":1777,"T":26.8},{"s":"CS","wn":1753,"T":25.0},{"s":"CS","wn":1729,"T":22.0},{"s":"CS","wn":1710,"T":19.3},{"s":"CS","wn":1694,"T":16.6},{"s":"CS","wn":1682,"T":15.5},{"s":"CS","wn":1670,"T":15.7},{"s":"CS","wn":1653,"T":16.2},{"s":"CS","wn":1639,"T":15.5},{"s":"CS","wn":1629,"T":13.7},{"s":"CS","wn":1615,"T":17.1},{"s":"CS","wn":1598,"T":18.9},{"s":"CS","wn":1582,"T":20.7},{"s":"CS","wn":1567,"T":21.8},{"s":"CS","wn":1551,"T":22.15},{"s":"CS","wn":1534,"T":21.6},{"s":"CS","wn":1520,"T":20.0},{"s":"CS","wn":1503,"T":17.5},{"s":"CS","wn":1487,"T":16.6},{"s":"CS","wn":1468,"T":15.9},{"s":"CS","wn":1449,"T":15.3},{"s":"CS","wn":1432,"T":16.2},{"s":"CS","wn":1420,"T":14.8},{"s":"CS","wn":1408,"T":14.1},{"s":"CS","wn":1396,"T":15.7},{"s":"CS","wn":1377,"T":15.9},{"s":"CS","wn":1360,"T":16.4},{"s":"CS","wn":1337,"T":16.85},{"s":"CS","wn":1313,"T":18.0},{"s":"CS","wn":1301,"T":18.4},{"s":"CS","wn":1282,"T":18.0},{"s":"CS","wn":1258,"T":17.5},{"s":"CS","wn":1242,"T":16.2},{"s":"CS","wn":1225,"T":14.4},{"s":"CS","wn":1206,"T":12.3},{"s":"CS","wn":1194,"T":10.3},{"s":"CS","wn":1182,"T":9.85},{"s":"CS","wn":1170,"T":11.2},{"s":"CS","wn":1154,"T":10.3},{"s":"CS","wn":1130,"T":9.4},{"s":"CS","wn":1111,"T":8.95},{"s":"CS","wn":1092,"T":8.73},{"s":"CS","wn":1075,"T":9.4},{"s":"CS","wn":1058,"T":9.63},{"s":"CS","wn":1039,"T":9.97},{"s":"CS","wn":1020,"T":10.2},{"s":"CS","wn":1004,"T":10.75},{"s":"CS","wn":987,"T":12.8},{"s":"CS","wn":968,"T":13.5},{"s":"CS","wn":949,"T":14.8},{"s":"CS","wn":937,"T":15.0},{"s":"CS","wn":925,"T":15.95},{"s":"CS","wn":909,"T":17.1},{"s":"CS","wn":892,"T":17.75},{"s":"CS","wn":873,"T":18.2},{"s":"CS","wn":849,"T":18.3},{"s":"CS","wn":821,"T":18.0},{"s":"CS","wn":790,"T":17.3},{"s":"CS","wn":754,"T":16.6},{"s":"CS","wn":718,"T":15.7},{"s":"CS","wn":702,"T":15.0},{"s":"CS","wn":683,"T":13.9},{"s":"CS","wn":654,"T":13.5},{"s":"CS","wn":623,"T":13.1},{"s":"CS","wn":592,"T":13.0},{"s":"CS","wn":564,"T":13.2},{"s":"CS","wn":540,"T":13.5},{"s":"CS","wn":521,"T":14.8},{"s":"CS","wn":504,"T":14.4},{"s":"CS","wn":492,"T":14.6},{"s":"CS","wn":480,"T":14.4},{"s":"CS","wn":468,"T":13.7},{"s":"CS","wn":457,"T":15.5},{"s":"CS","wn":450,"T":12.3},{"s":"CS","wn":440,"T":14.8},{"s":"CS","wn":433,"T":18.0},{"s":"CS","wn":426,"T":11.0},{"s":"CS","wn":416,"T":13.9}
],
"leaders": [
{"wn":3453,"T":119.6,"wn2":3453,"T2":117.7},{"wn":2176,"T":119.8,"wn2":2176,"T2":114.0},{"wn":1650,"T":118.2,"wn2":1650,"T2":115.0},
{"wn":3475,"T":94.0,"wn2":3475,"T2":90.8},{"wn":2240,"T":96.1,"wn2":2240,"T2":92.2},{"wn":2193,"T":97.2,"wn2":2193,"T2":89.1},{"wn":1681,"T":92.9,"wn2":1681,"T2":89.2},
{"wn":3494,"T":58.0,"wn2":3482,"T2":55.4},
{"wn":3410,"T":31.8,"wn2":3414,"T2":28.6},{"wn":3008,"T":40.3,"wn2":3008,"T2":32.7},{"wn":2994,"T":34.9,"wn2":2844,"T2":32.9},{"wn":1676,"T":38.9,"wn2":1676,"T2":36.7},{"wn":1592,"T":32.7,"wn2":1564,"T2":32.9},{"wn":1466,"T":45.2,"wn2":1466,"T2":36.3},{"wn":1466,"T":36.3,"wn2":1389,"T2":32.2},{"wn":1436,"T":39.6,"wn2":1209,"T2":30.4},{"wn":747,"T":32.9,"wn2":766,"T2":30.5},
{"wn":3477,"T":9.63,"wn2":3477,"T2":6.0},{"wn":1908,"T":13.6,"wn2":1682,"T2":14.0},{"wn":1629,"T":13.7,"wn2":1629,"T2":13.0},{"wn":1629,"T":13.0,"wn2":1694,"T2":11.0},{"wn":1242,"T":8.3,"wn2":1187,"T2":8.4},{"wn":1187,"T":8.4,"wn2":1187,"T2":9.85},{"wn":1092,"T":8.73,"wn2":1099,"T2":7.4},{"wn":1058,"T":9.63,"wn2":1039,"T2":7.5},{"wn":1039,"T":7.5,"wn2":980,"T2":6.6},{"wn":937,"T":15.0,"wn2":937,"T2":11.0},{"wn":937,"T":11.0,"wn2":735,"T2":8.84}
],
"peaks": [
{"wn":3446,"T":112.6,"label":"3400"},{"wn":2347,"T":115.75,"label":"2206"},{"wn":2078,"T":113.2,"label":"2162"},{"wn":1622,"T":111.6,"label":"1641"},
{"wn":3477,"T":85.7,"label":"3400"},{"wn":2312,"T":89.9,"label":"2207"},{"wn":2090,"T":88.0,"label":"2162"},{"wn":1646,"T":85.3,"label":"1641"},
{"wn":3470,"T":51.1,"label":"3400"},{"wn":1394,"T":58.0,"label":"1250"},
{"wn":3398,"T":24.3,"label":"3400"},{"wn":3059,"T":30.7,"label":"3052"},{"wn":2765,"T":31.8,"label":"3027"},{"wn":1800,"T":34.4,"label":"1691"},{"wn":1670,"T":29.6,"label":"1600"},{"wn":1500,"T":28.3,"label":"1579"},{"wn":1348,"T":28.2,"label":"1493"},{"wn":1156,"T":26.8,"label":"1454"},{"wn":842,"T":29.9,"label":"757"},{"wn":638,"T":30.8,"label":"692"},
{"wn":3556,"T":4.4,"label":"3400"},{"wn":3066,"T":8.2,"label":"2924"},{"wn":2819,"T":9.7,"label":"2864"},{"wn":2025,"T":12.1,"label":"1658"},{"wn":1740,"T":7.7,"label":"1593"},{"wn":1338,"T":6.2,"label":"1158"},{"wn":1150,"T":3.9,"label":"1074"},{"wn":915,"T":5.6,"label":"1029"},{"wn":645,"T":6.8,"label":"894"}
],
"names": [
{"series":"CCs","line":"Cyanoguanidine -","wn":4160,"T":136.3},{"series":"CCs","line":"modified chitosan","wn":4160,"T":130.8},{"series":"CCs","line":"(CCs) adsorbent","wn":4160,"T":125.6},
{"series":"CGCSB","line":"Cyanoguanidine","wn":4807,"T":109.1},{"series":"CGCSB","line":"chitosan Schiff’s base","wn":4807,"T":103.5},
{"series":"ECSB","line":"Epoxy Chitosan","wn":4070,"T":71.9},{"series":"ECSB","line":"Schiff’s base","wn":4070,"T":66.2},
{"series":"CSB","line":"Chitosan Schiff’s","wn":4670,"T":50.1},{"series":"CSB","line":"base","wn":4548,"T":44.4},
{"series":"CS","line":"chitosan","wn":4476,"T":27.5}
],
"minor": [{"wn":3750},{"wn":3250},{"wn":2750},{"wn":2250},{"wn":1750},{"wn":1250},{"wn":750}]
},
"layer": [
{
"data": {"name": "spectra"},
"mark": {"type": "line", "color": "#111111", "strokeWidth": 4.5, "strokeJoin": "round", "clip": false},
"encoding": {
"x": {"field": "wn", "type": "quantitative", "title": "Wavenumber (cm⁻¹)",
"scale": {"domain": [500, 4000], "reverse": true, "nice": false, "zero": false},
"axis": {"values": [4000,3500,3000,2500,2000,1500,1000,500], "format": "d", "grid": false, "title": "Wavenumber (cm⁻¹)",
"domainColor": "black", "domainWidth": 6, "tickColor": "black", "tickWidth": 6, "tickSize": 38,
"labelFont": "DejaVu Sans Condensed, DejaVu Sans, sans-serif", "labelFontSize": 48, "labelFontWeight": "bold", "labelColor": "black", "labelPadding": 25, "labelFlush": false, "labelOverlap": false,
"titleFont": "Liberation Serif", "titleFontSize": 80, "titleFontWeight": "bold", "titleColor": "black", "titlePadding": 71, "titleX": 1091}},
"y": {"field": "T", "type": "quantitative", "scale": {"domain": [0, 141.8], "nice": false, "zero": false}, "axis": null},
"detail": {"field": "s"}
}
},
{
"data": {"name": "minor"},
"mark": {"type": "rule", "color": "black", "strokeWidth": 6, "clip": false},
"encoding": {
"x": {"field": "wn", "type": "quantitative", "title": "Wavenumber (cm⁻¹)"},
"y": {"datum": 0, "type": "quantitative", "axis": null},
"y2": {"datum": -1.18}
}
},
{
"data": {"name": "leaders"},
"mark": {"type": "rule", "color": "#111111", "strokeWidth": 3.5, "clip": false},
"encoding": {
"x": {"field": "wn", "type": "quantitative", "title": "Wavenumber (cm⁻¹)"},
"x2": {"field": "wn2", "title": "Wavenumber (cm⁻¹)"},
"y": {"field": "T", "type": "quantitative", "axis": null},
"y2": {"field": "T2"}
}
},
{
"data": {"name": "peaks"},
"mark": {"type": "text", "angle": 270, "align": "center", "baseline": "middle", "font": "DejaVu Sans Condensed, DejaVu Sans, sans-serif", "fontSize": 64, "fontWeight": "bold", "color": "#111111", "clip": false},
"encoding": {
"x": {"field": "wn", "type": "quantitative", "title": "Wavenumber (cm⁻¹)"},
"y": {"field": "T", "type": "quantitative", "axis": null},
"text": {"field": "label"}
}
},
{
"data": {"name": "names"},
"transform": [{"filter": "datum.series === 'CCs'"}],
"mark": {"type": "text", "align": "right", "baseline": "middle", "font": "DejaVu Sans", "fontSize": 66, "color": "#1a1a1a", "clip": false},
"encoding": {
"x": {"field": "wn", "type": "quantitative", "title": "Wavenumber (cm⁻¹)"},
"y": {"field": "T", "type": "quantitative", "axis": null},
"text": {"field": "line"}
}
},
{
"data": {"name": "names"},
"transform": [{"filter": "datum.series === 'ECSB'"}],
"mark": {"type": "text", "align": "right", "baseline": "middle", "font": "DejaVu Sans", "fontSize": 75, "color": "#1a1a1a", "clip": false},
"encoding": {
"x": {"field": "wn", "type": "quantitative", "title": "Wavenumber (cm⁻¹)"},
"y": {"field": "T", "type": "quantitative", "axis": null},
"text": {"field": "line"}
}
},
{
"data": {"name": "names"},
"transform": [{"filter": "datum.series !== 'CCs' && datum.series !== 'ECSB'"}],
"mark": {"type": "text", "align": "center", "baseline": "middle", "font": "DejaVu Sans", "fontSize": 75, "color": "#1a1a1a", "clip": false},
"encoding": {
"x": {"field": "wn", "type": "quantitative", "title": "Wavenumber (cm⁻¹)"},
"y": {"field": "T", "type": "quantitative", "axis": null},
"text": {"field": "line"}
}
}
]
}
